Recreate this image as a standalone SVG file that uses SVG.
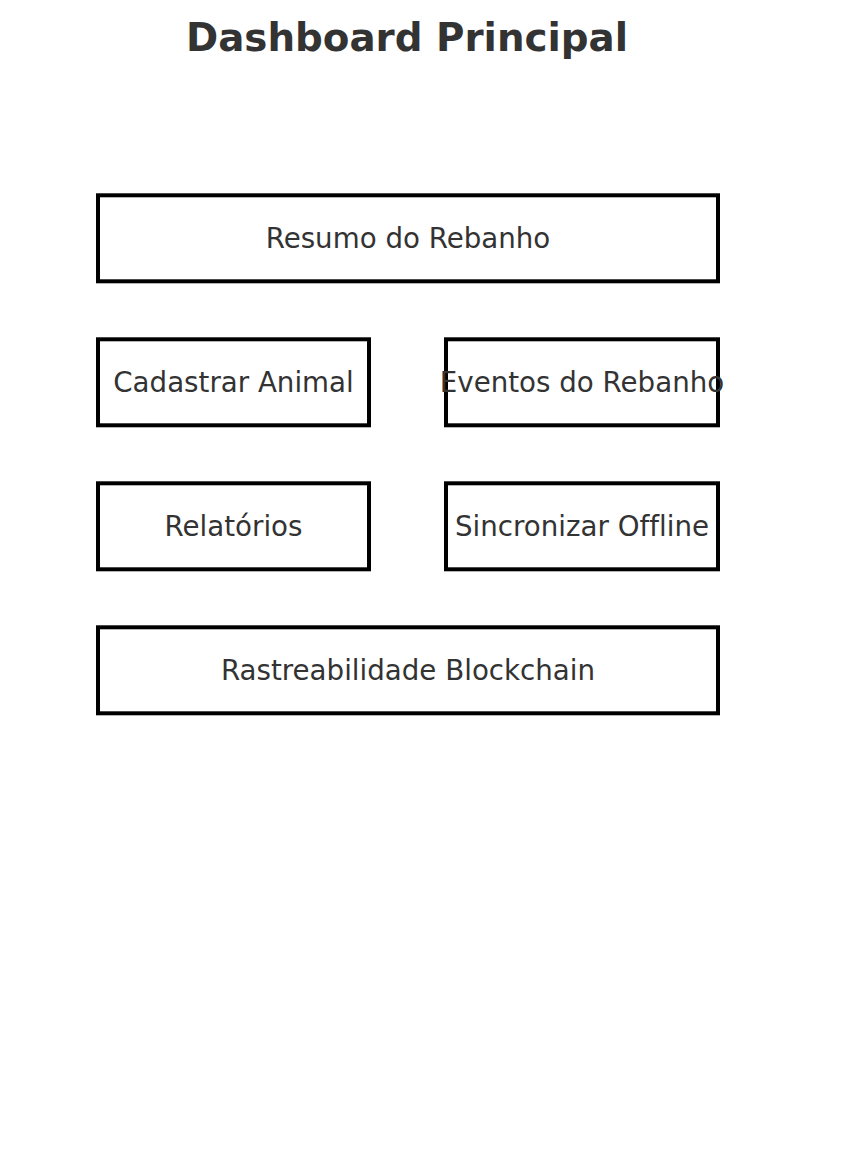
<svg xmlns="http://www.w3.org/2000/svg" width="864" height="1164" viewBox="0 0 864 1164">
<style>
.box{fill:#fff;stroke:#000;stroke-width:4}
.lbl{font-family:"DejaVu Sans",sans-serif;font-size:27.7px;fill:#333;text-anchor:middle;dominant-baseline:central;font-variant-ligatures:none}
.title{font-family:"DejaVu Sans",sans-serif;font-size:38.8px;font-weight:bold;fill:#333;text-anchor:middle}
</style>
<rect width="864" height="1164" fill="#fff"/>
<text class="title" x="407" y="51">Dashboard Principal</text>
<g id="connectors"></g>
<g id="resumo"><rect class="box" x="98" y="195.3" width="620" height="86"/><text class="lbl" x="408" y="238">Resumo do Rebanho</text></g>
<g id="cadastrar"><rect class="box" x="98" y="339.3" width="271" height="86"/><text class="lbl" x="233.5" y="382">Cadastrar Animal</text></g>
<g id="eventos"><rect class="box" x="446" y="339.3" width="272" height="86"/><text class="lbl" x="582" y="382">Eventos do Rebanho</text></g>
<g id="relatorios"><rect class="box" x="98" y="483.3" width="271" height="86"/><text class="lbl" x="233.5" y="526">Relatórios</text></g>
<g id="sincronizar"><rect class="box" x="446" y="483.3" width="272" height="86"/><text class="lbl" x="582" y="526">Sincronizar Offline</text></g>
<g id="blockchain"><rect class="box" x="98" y="627.3" width="620" height="86"/><text class="lbl" x="408" y="670">Rastreabilidade Blockchain</text></g>
</svg>
